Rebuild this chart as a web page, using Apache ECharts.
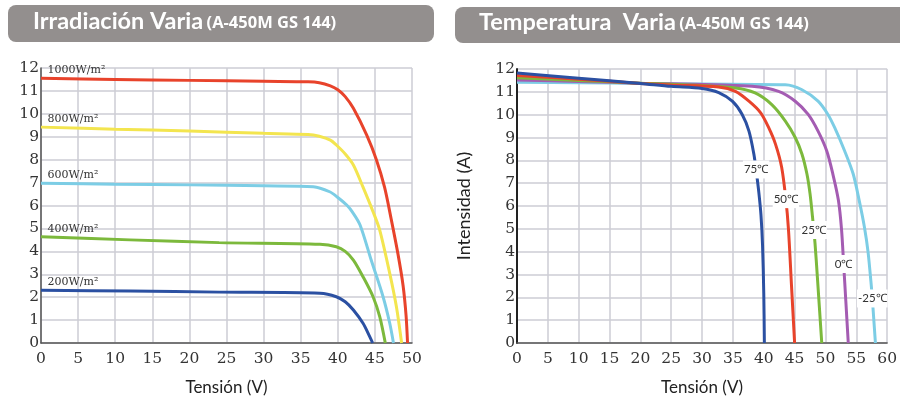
<!DOCTYPE html>
<html><head><meta charset="utf-8">
<script src="https://cdn.jsdelivr.net/npm/echarts@6/dist/echarts.min.js"></script>
<style>html,body{margin:0;padding:0;background:#fff}#c{width:900px;height:401px}</style>
</head><body><div id="c"></div>
<script>
// ---- Left chart: irradiance curves (V, A) ----
const irr1000 = [[0,11.55],[10,11.5],[20,11.46],[30,11.42],[36,11.4],[37.5,11.36],[39,11.22],[40,11.05],[41,10.75],[42.1,10.24],[43.9,9.07],[45.2,8.0],[46.3,6.8],[47.2,5.4],[48.1,3.9],[48.8,2.5],[49.2,1.2],[49.4,0]];
const irr800 = [[0,9.42],[10,9.33],[20,9.25],[30,9.15],[36,9.1],[37.5,9.02],[39,8.85],[39.8,8.64],[41,8.25],[42.1,7.77],[43.4,6.8],[44.75,5.73],[45.65,4.93],[47,3.04],[47.9,1.58],[48.6,0]];
const irr600 = [[0,6.97],[10,6.93],[20,6.9],[30,6.86],[36.7,6.82],[38.9,6.6],[40,6.35],[41.2,6.02],[42,5.7],[43,5.15],[44.5,3.62],[46.1,2.02],[47,0.86],[47.5,0]];
const irr400 = [[0,4.64],[12,4.5],[24,4.38],[37.6,4.31],[39.8,4.2],[41,4.0],[42.1,3.62],[43.4,2.89],[44.75,2.02],[45.65,1.15],[46.4,0]];
const irr200 = [[0,2.3],[12,2.27],[24,2.22],[37.6,2.17],[39.8,2.02],[41,1.8],[42.1,1.44],[43.4,0.86],[44.3,0.28],[44.7,0]];
const irrNames = ['1000W/m²','800W/m²','600W/m²','400W/m²','200W/m²'];
// ---- Right chart: temperature curves (V, A) ----
const t75 = [[0,11.82],[10,11.6],[20,11.37],[25,11.24],[30,11.15],[32.7,10.97],[34.9,10.59],[36.5,10.01],[37.6,9.28],[38.4,8.27],[38.75,7.6],[39.2,6.6],[39.55,5.6],[39.8,4.3],[40.0,2.2],[40.1,0]];
const t50 = [[0,11.72],[10,11.55],[20,11.37],[25,11.3],[32.7,11.21],[35.4,11.02],[37.6,10.59],[39.5,10.08],[40.8,9.43],[41.9,8.71],[42.9,7.7],[43.58,6.3],[44.0,5.0],[44.5,2.5],[45.0,0]];
const t25 = [[0,11.62],[10,11.5],[20,11.38],[25,11.33],[35.4,11.17],[38.6,10.95],[41.3,10.44],[43.5,9.72],[45.1,9.0],[46.2,8.27],[47,7.4],[47.5,6.54],[47.9,5.53],[48.1,4.95],[48.3,4.4],[48.7,2.85],[49.4,0]];
const t0 = [[0,11.52],[10,11.45],[20,11.38],[25,11.35],[38.1,11.24],[42.4,11.02],[45.1,10.59],[47.2,10.01],[48.8,9.28],[50.2,8.42],[51.2,7.4],[52.1,6.25],[52.6,5.0],[52.95,3.46],[53.3,1.85],[53.7,0]];
const tm25 = [[0,11.42],[10,11.4],[20,11.37],[30,11.34],[43.5,11.31],[46.2,11.09],[48.8,10.59],[50.4,10.01],[51.5,9.43],[53.1,8.42],[54.5,7.4],[55.5,6.2],[56.3,5.1],[56.9,4.0],[57.5,2.3],[57.6,1.95],[58.1,0]];
const tempNames = ['75℃','50℃','25℃','0℃','-25℃'];
const tempLabelIdx = [10,11,13,13,15];
// ---- Axis ticks ----
const leftXTicks = {min:0,max:50,interval:5};
const rightXTicks = {min:0,max:60,interval:5};
const yTicks = {min:0,max:12,interval:1};

const cRed='#e8432b', cYel='#f3e54f', cCyan='#7ccde5', cGreen='#7cb93c', cBlue='#2b50a2', cPurple='#a45cb2';
const gridCol = '#cdcdd4';
const tickFont = {fontFamily:'DejaVu Serif', fontSize:15.5, color:'#333'};

function xAx(grid, t, lineCol, name){
  return {type:'value', gridIndex:grid, min:t.min, max:t.max, interval:t.interval,
    name:name, nameLocation:'middle', nameGap:36,
    nameTextStyle:{fontFamily:'Lato', fontSize:17, color:'#222'},
    axisLine:{show:true, onZero:false, lineStyle:{color:lineCol, width:1.5}},
    axisTick:{show:false}, axisLabel:Object.assign({margin:8}, tickFont),
    splitLine:{show:true, lineStyle:{color:gridCol, width:1.5}}};
}
function yAx(grid, t, lineCol, lw, name){
  return {type:'value', gridIndex:grid, min:t.min, max:t.max, interval:t.interval,
    name:name||'', nameLocation:'middle', nameGap:44,
    nameTextStyle:{fontFamily:'Lato', fontSize:18, color:'#222'},
    axisLine:{show:true, onZero:false, lineStyle:{color:lineCol, width:lw}},
    axisTick:{show:false}, axisLabel:Object.assign({margin:2}, tickFont),
    splitLine:{show:true, lineStyle:{color:gridCol, width:1.5}}};
}
function irrSeries(data, color, name){
  return {type:'line', xAxisIndex:0, yAxisIndex:0, data:data, symbol:'none', smooth:0.3,
    lineStyle:{color:color, width:3}, silent:true,
    markPoint:{symbol:'circle', symbolSize:1, itemStyle:{color:'rgba(0,0,0,0)'},
      label:{show:true, position:'right', distance:6, offset:[0,-8], formatter:name,
        fontFamily:'DejaVu Serif', fontSize:11, color:'#333'},
      data:[{coord:data[0]}]}};
}
function tempSeries(data, color, name, idx){
  return {type:'line', xAxisIndex:1, yAxisIndex:1, data:data, symbol:'none', smooth:0.3,
    lineStyle:{color:color, width:3}, silent:true,
    markPoint:{symbol:'circle', symbolSize:1, itemStyle:{color:'rgba(0,0,0,0)'},
      label:{show:true, position:'inside', formatter:name, backgroundColor:'#fff', padding:[3,1],
        fontFamily:'Lato', fontSize:11.5, color:'#333'},
      data:[{coord:data[idx]}]}};
}

const titleRich = {
  a:{fontFamily:'Lato',fontWeight:'bold',fontSize:23.5,lineHeight:28,verticalAlign:'bottom',fill:'#fff'},
  b:{fontFamily:'Open Sans',fontWeight:'bold',fontSize:16.5,lineHeight:28,verticalAlign:'bottom',padding:[0,0,1,0],fill:'#fff'}
};
const chart = echarts.init(document.getElementById('c'), null, {renderer:'canvas'});
chart.setOption({
  animation:false,
  backgroundColor:'#fff',
  grid:[{left:41, right:488, top:68, bottom:58},{left:517, right:11, top:69, bottom:55}],
  xAxis:[xAx(0,leftXTicks,'#555','Tensión (V)'), xAx(1,rightXTicks,'#555','Tensión (V)')],
  yAxis:[yAx(0,yTicks,'#555',1.5), yAx(1,yTicks,'#222',2,'Intensidad (A)')],
  graphic:[
    {type:'rect', shape:{x:8,y:5,width:426,height:37,r:8}, style:{fill:'#938f8e'}},
    {type:'rect', shape:{x:455,y:7,width:460,height:36,r:8}, style:{fill:'#938f8e'}},
    {type:'text', left:33, top:9, style:{rich:titleRich, text:'{a|Irradiación Varia} {b|(A-450M GS 144)}'}},
    {type:'text', left:479, top:10, style:{rich:titleRich, text:'{a|Temperatura  Varia} {b|(A-450M GS 144)}'}}
  ],
  series:[
    irrSeries(irr1000,cRed,irrNames[0]),
    irrSeries(irr800,cYel,irrNames[1]),
    irrSeries(irr600,cCyan,irrNames[2]),
    irrSeries(irr400,cGreen,irrNames[3]),
    irrSeries(irr200,cBlue,irrNames[4]),
    tempSeries(tm25,cCyan,tempNames[4],tempLabelIdx[4]),
    tempSeries(t0,cPurple,tempNames[3],tempLabelIdx[3]),
    tempSeries(t25,cGreen,tempNames[2],tempLabelIdx[2]),
    tempSeries(t50,cRed,tempNames[1],tempLabelIdx[1]),
    tempSeries(t75,cBlue,tempNames[0],tempLabelIdx[0])
  ]
});
</script></body></html>
